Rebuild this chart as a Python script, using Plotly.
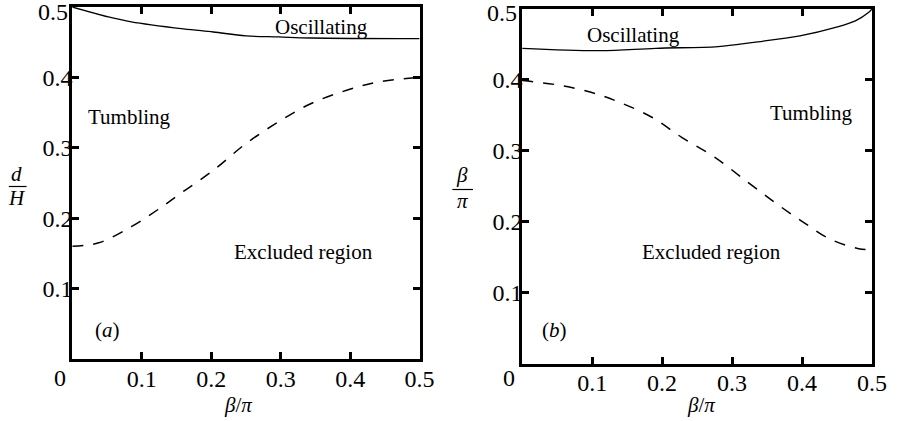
import plotly.graph_objects as go

# ---- data ----
tick_vals = [0.1, 0.2, 0.3, 0.4, 0.5]
tick_text = ["0.1", "0.2", "0.3", "0.4", "0.5"]

# panel (a): d/H vs beta/pi
a_solid_x = [0.0, 0.052, 0.085, 0.160, 0.203, 0.25, 0.297, 0.344, 0.5]
a_solid_y = [0.5, 0.486, 0.479, 0.469, 0.4645, 0.459, 0.4575, 0.456, 0.455]
a_dash_x = [0.0, 0.038, 0.085, 0.123, 0.160, 0.203, 0.25, 0.297, 0.344, 0.396, 0.443, 0.5]
a_dash_y = [0.16, 0.165, 0.188, 0.212, 0.238, 0.268, 0.306, 0.337, 0.363, 0.382, 0.394, 0.40]

# panel (b): beta/pi vs beta/pi
b_solid_x = [0.0, 0.111, 0.191, 0.28, 0.331, 0.397, 0.448, 0.477, 0.495, 0.5]
b_solid_y = [0.4446, 0.4413, 0.4446, 0.447, 0.453, 0.462, 0.474, 0.4836, 0.495, 0.5]
b_dash_x = [0.0, 0.05, 0.097, 0.139, 0.186, 0.228, 0.275, 0.322, 0.364, 0.4016, 0.439, 0.481, 0.5]
b_dash_y = [0.399, 0.393, 0.383, 0.3685, 0.347, 0.319, 0.291, 0.256, 0.225, 0.1995, 0.176, 0.162, 0.1606]

FONT = "Liberation Serif, Times New Roman, serif"
FS = 21
TFS = 24
W, H = 903, 421

fig = go.Figure()
line_solid = dict(color="black", width=1.3)
line_dash = dict(color="black", width=1.5, dash="11px,10px")

fig.add_trace(go.Scatter(x=a_solid_x, y=a_solid_y, mode="lines", line=dict(line_solid, shape="spline"), xaxis="x", yaxis="y"))
fig.add_trace(go.Scatter(x=a_dash_x, y=a_dash_y, mode="lines", line=dict(line_dash, shape="spline"), xaxis="x", yaxis="y"))
fig.add_trace(go.Scatter(x=b_solid_x, y=b_solid_y, mode="lines", line=dict(line_solid, shape="spline"), xaxis="x2", yaxis="y2"))
fig.add_trace(go.Scatter(x=b_dash_x, y=b_dash_y, mode="lines", line=dict(line_dash, shape="spline"), xaxis="x2", yaxis="y2"))

def ax(domain, anchor, texts):
    return dict(
        domain=domain, anchor=anchor, range=[0, 0.5],
        showline=True, linecolor="black", linewidth=3, mirror="ticks",
        ticks="inside", ticklen=7, tickwidth=3, tickcolor="black",
        tickvals=tick_vals, ticktext=texts,
        showgrid=False, zeroline=False,
        tickfont=dict(family=FONT, size=TFS, color="black"),
    )

# y axes: top label drawn as an annotation (it sits slightly below its tick)
y_text = tick_text[:-1] + [""]

# pixel geometry
aL, aR, aT, aB = 73.5, 426.7, 7, 359
bL, bR, bT, bB = 531, 886.7, 9, 363.5

xa = ax([aL / W, aR / W], "y", tick_text); xa["ticklabelstandoff"] = -4
ya = ax([(H - aB) / H, (H - aT) / H], "x", y_text); ya["ticklabelstandoff"] = -8
xb = ax([bL / W, bR / W], "y2", tick_text); xb["ticklabelstandoff"] = -4
yb = ax([(H - bB) / H, (H - bT) / H], "x2", y_text); yb["ticklabelstandoff"] = -8

fig.update_layout(
    width=W, height=H, margin=dict(l=0, r=0, t=0, b=0),
    paper_bgcolor="white", plot_bgcolor="white", showlegend=False,
    xaxis=xa, yaxis=ya, xaxis2=xb, yaxis2=yb,
    font=dict(family=FONT, size=FS, color="black"),
)

def px_ann(text, x, y, size=FS, xanchor="center"):
    fig.add_annotation(text=text, x=x / W, y=1 - y / H, xref="paper", yref="paper",
                       showarrow=False, xanchor=xanchor, yanchor="middle",
                       font=dict(family=FONT, size=size, color="black"))

# panel (a) labels
px_ann("Oscillating", 327, 27)
px_ann("Tumbling", 132, 117)
px_ann("Excluded region", 309, 252)
px_ann("(<i>a</i>)", 109, 330)
px_ann("0", 61, 378, TFS)
px_ann(tick_text[-1], 71, 12, TFS, "right")
px_ann("<i>β</i>/<i>π</i>", 242, 405)
px_ann("<i>d</i>", 17, 174)
px_ann("<i>H</i>", 17, 198)
fig.add_shape(type="line", xref="paper", yref="paper", x0=9 / W, x1=27 / W,
              y0=1 - 186.5 / H, y1=1 - 186.5 / H, line=dict(color="black", width=1.2))

# panel (b) labels
px_ann("Oscillating", 644, 35)
px_ann("Tumbling", 825, 113)
px_ann("Excluded region", 724, 252)
px_ann("(<i>b</i>)", 564, 330)
px_ann("0", 518, 378, TFS)
px_ann(tick_text[-1], 528, 13, TFS, "right")
px_ann("<i>β</i>/<i>π</i>", 713, 405)
px_ann("<i>β</i>", 470, 175)
px_ann("<i>π</i>", 470, 201)
fig.add_shape(type="line", xref="paper", yref="paper", x0=460 / W, x1=481 / W,
              y0=1 - 189.5 / H, y1=1 - 189.5 / H, line=dict(color="black", width=1.2))

fig.write_html("out.html")
